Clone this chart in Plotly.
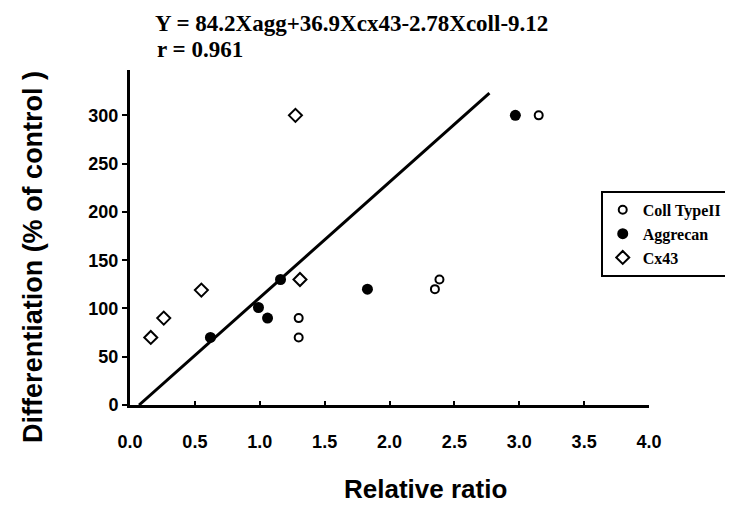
import plotly.graph_objects as go

# Data
coll_x = [1.30, 1.30, 2.35, 2.385, 3.15]
coll_y = [70, 90, 120, 130, 300]

agg_x = [0.62, 0.99, 1.06, 1.16, 1.83, 2.97]
agg_y = [70, 101, 90, 130, 120, 300]

cx43_x = [0.16, 0.26, 0.55, 1.31, 1.275]
cx43_y = [70, 90, 119, 130, 300]

fit_x = [0.07, 2.77]
fit_y = [0, 323]

x_ticks = [0.0, 0.5, 1.0, 1.5, 2.0, 2.5, 3.0, 3.5, 4.0]
y_ticks = [0, 50, 100, 150, 200, 250, 300]

equation = "Y = 84.2Xagg+36.9Xcx43-2.78Xcoll-9.12"
r_text = "r = 0.961"
x_title = "Relative ratio"
y_title = "Differentiation (% of control )"

sans = "Liberation Sans, Arial, sans-serif"
serif = "Liberation Serif, Times New Roman, serif"

fig = go.Figure()

fig.add_trace(go.Scatter(
    x=fit_x, y=fit_y, mode="lines",
    line=dict(color="black", width=3), showlegend=False, hoverinfo="skip"))

fig.add_trace(go.Scatter(
    x=coll_x, y=coll_y, mode="markers", name="Coll TypeII",
    marker=dict(symbol="circle-open", size=8, color="black",
                line=dict(width=2, color="black"))))

fig.add_trace(go.Scatter(
    x=agg_x, y=agg_y, mode="markers", name="Aggrecan",
    marker=dict(symbol="circle", size=11, color="black")))

fig.add_trace(go.Scatter(
    x=cx43_x, y=cx43_y, mode="markers", name="Cx43",
    marker=dict(symbol="diamond-open", size=10, color="black",
                line=dict(width=2, color="black"))))

fig.update_layout(
    width=733, height=506,
    margin=dict(l=122, r=86, t=62, b=109),
    paper_bgcolor="white", plot_bgcolor="white",
    showlegend=True,
    legend=dict(x=0.907, y=0.639, xanchor="left", yanchor="top",
                bgcolor="white", bordercolor="black", borderwidth=2,
                font=dict(family=serif, size=16, color="black", weight="bold"),
                tracegroupgap=0, itemwidth=30),
    xaxis=dict(range=[0, 4.0], tickvals=x_ticks,
               ticktext=[f"{v:.1f}" for v in x_ticks],
               showgrid=False, zeroline=False,
               showline=True, linecolor="black", linewidth=3,
               ticks="inside", ticklen=4, tickwidth=2, tickcolor="black",
               ticklabelstandoff=18,
               tickfont=dict(family=sans, size=18, color="black", weight="bold")),
    yaxis=dict(range=[0, 347], tickvals=y_ticks,
               showgrid=False, zeroline=False,
               showline=True, linecolor="black", linewidth=3,
               ticks="outside", ticklen=5, tickwidth=2, tickcolor="black",
               tickfont=dict(family=sans, size=18, color="black", weight="bold")),
    annotations=[
        dict(text=equation, xref="paper", yref="paper",
             x=0.045, y=1.14, xanchor="left", yanchor="middle", showarrow=False,
             font=dict(family=serif, size=23, color="black", weight="bold")),
        dict(text=r_text, xref="paper", yref="paper",
             x=0.049, y=1.06, xanchor="left", yanchor="middle", showarrow=False,
             font=dict(family=serif, size=23, color="black", weight="bold")),
        dict(text=x_title, xref="paper", yref="paper",
             x=0.57, y=-0.25, xanchor="center", yanchor="middle", showarrow=False,
             font=dict(family=sans, size=26, color="black", weight="bold")),
        dict(text=y_title, xref="paper", yref="paper", textangle=-90,
             x=-0.187, y=0.442, xanchor="center", yanchor="middle", showarrow=False,
             font=dict(family=sans, size=27, color="black", weight="bold")),
    ],
)

fig.write_html("out.html")
